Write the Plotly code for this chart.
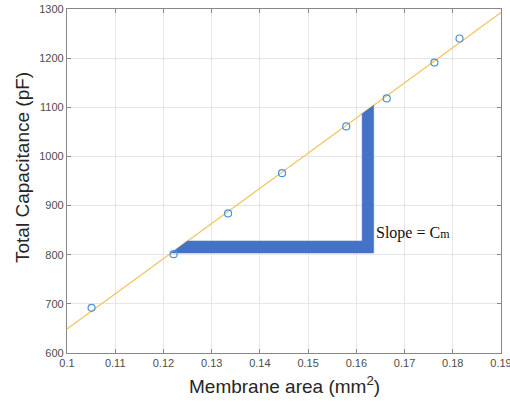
import plotly.graph_objects as go

# Measured data
membrane_area = [0.1051, 0.1221, 0.1334, 0.1446, 0.1579, 0.1663, 0.1762, 0.1814]
capacitance = [692, 801, 884, 966, 1061, 1118, 1191, 1240]

# Linear fit line
fit_x = [0.10, 0.19]
fit_y = [649, 1293]

# Slope indicator polygon vertices (data coords)
slope_x = [0.1216, 0.1636, 0.1636, 0.1612, 0.1612, 0.1250, 0.1216]
slope_y = [803.5, 803.5, 1104, 1087, 828, 828, 803.5]

x_ticks = [0.1, 0.11, 0.12, 0.13, 0.14, 0.15, 0.16, 0.17, 0.18, 0.19]
x_tick_labels = ["0.1", "0.11", "0.12", "0.13", "0.14", "0.15", "0.16", "0.17", "0.18", "0.19"]
y_ticks = [600, 700, 800, 900, 1000, 1100, 1200, 1300]

fig = go.Figure()

fig.add_trace(go.Scatter(
    x=fit_x, y=fit_y, mode="lines",
    line=dict(color="#F2C45E", width=1.2), hoverinfo="skip", showlegend=False))

fig.add_trace(go.Scatter(
    x=slope_x, y=slope_y, mode="lines", fill="toself",
    fillcolor="#4472C4", line=dict(color="#4472C4", width=0.5),
    hoverinfo="skip", showlegend=False))

fig.add_trace(go.Scatter(
    x=membrane_area, y=capacitance, mode="markers",
    marker=dict(symbol="circle-open", size=7, color="#4A94D6", line=dict(width=1.2)),
    showlegend=False))

fig.add_annotation(
    x=0.1636, y=845, xref="x", yref="y", xanchor="left", yanchor="middle",
    text='Slope = C<span style="font-size:12px">m</span>', showarrow=False,
    font=dict(family="Liberation Serif, Times New Roman, serif", size=16, color="#111111"))

title_font = dict(family="Liberation Sans, Arial, sans-serif", size=19, color="#262626")
fig.add_annotation(
    x=0.502, y=-0.093, xref="paper", yref="paper", xanchor="center", yanchor="middle",
    text="Membrane area (mm<sup>2</sup>)", showarrow=False, font=title_font)
fig.add_annotation(
    x=-0.1014, y=0.5407, xref="paper", yref="paper", xanchor="center", yanchor="middle",
    text="Total Capacitance (pF)", textangle=-90, showarrow=False, font=title_font)

axis_common = dict(
    showgrid=True, gridcolor="#E6E6E6", gridwidth=1,
    showline=True, linecolor="#888888", linewidth=1.2, mirror="ticks",
    ticks="inside", ticklen=4, tickcolor="#888888",
    zeroline=False, ticklabeloverflow="allow", automargin=False,
    tickfont=dict(family="Liberation Sans, Arial, sans-serif", size=11, color="#4D4D4D"),
)

fig.update_xaxes(range=[0.1, 0.19], tickvals=x_ticks, ticktext=x_tick_labels, **axis_common)
fig.update_yaxes(range=[600, 1300], tickvals=y_ticks, **axis_common)

fig.update_layout(
    width=510, height=402,
    margin=dict(l=67, r=9, t=9, b=49),
    plot_bgcolor="white", paper_bgcolor="white",
)

fig.write_html("out.html")
